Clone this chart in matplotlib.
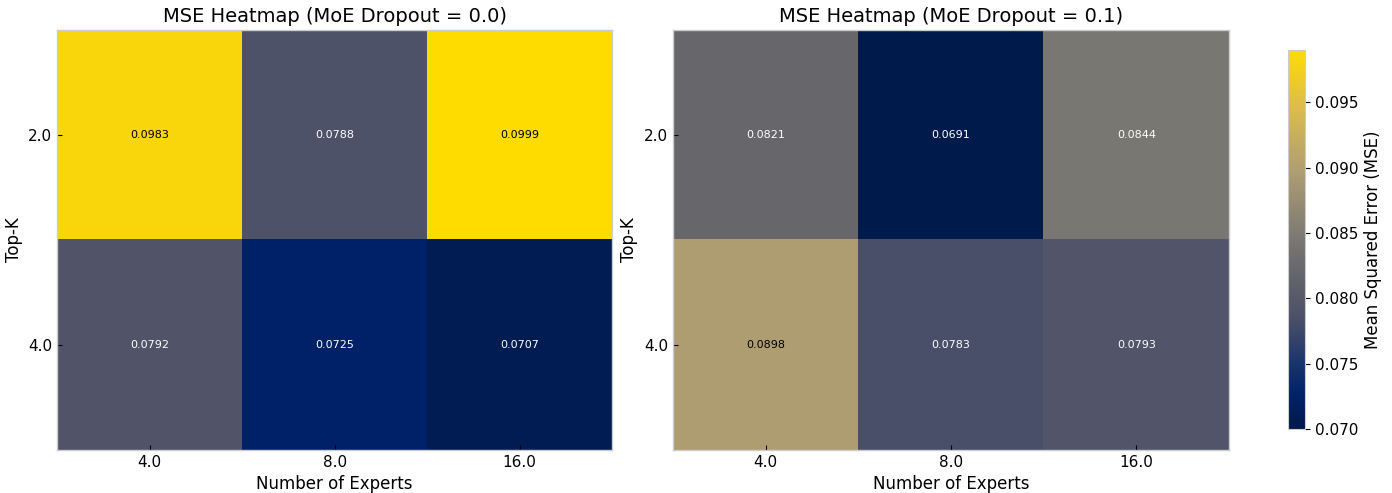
import numpy as np
import matplotlib
matplotlib.use("Agg")
from matplotlib import pyplot as plt
from matplotlib.colors import Normalize, LinearSegmentedColormap
from matplotlib.cm import ScalarMappable

# Values
num_experts = ["4.0", "8.0", "16.0"]
top_k = ["2.0", "4.0"]
dropouts = ["0.0", "0.1"]
mse_drop_00 = [[0.0983, 0.0788, 0.0999],
               [0.0792, 0.0725, 0.0707]]
mse_drop_01 = [[0.0821, 0.0691, 0.0844],
               [0.0898, 0.0783, 0.0793]]

# Navy -> gray -> gold map (a more saturated cividis look, as in the reference)
anchors = [(0.00, (0, 26, 76)), (0.09, (0, 34, 105)), (0.17, (25, 52, 108)),
           (0.29, (75, 80, 105)), (0.42, (104, 103, 108)), (0.50, (122, 120, 115)),
           (0.68, (175, 157, 115)), (0.86, (222, 190, 75)), (1.00, (255, 220, 0))]
cmap = LinearSegmentedColormap.from_list(
    "navy_gold", [(p, tuple(c / 255 for c in rgb)) for p, rgb in anchors])

fig = plt.figure(figsize=(13.92, 4.93), dpi=100)
axes = [fig.add_axes([0.041, 0.0872, 0.3987, 0.852]),
        fig.add_axes([0.4835, 0.0872, 0.3994, 0.852])]
cax = fig.add_axes([0.9253, 0.1298, 0.0122, 0.7688])

norm = Normalize(vmin=0.070, vmax=0.099)

im = None
for ax, drop, data in zip(axes, dropouts, [mse_drop_00, mse_drop_01]):
    data = np.array(data)
    im = ax.imshow(data, cmap=cmap, norm=norm, aspect="auto", interpolation="nearest")
    for i in range(data.shape[0]):
        for j in range(data.shape[1]):
            val = data[i, j]
            color = "black" if norm(val) > 0.6 else "white"
            ax.text(j, i, f"{val:.4f}", ha="center", va="center",
                    fontsize=8, color=color)
    ax.set_xticks(range(len(num_experts)))
    ax.set_xticklabels(num_experts)
    ax.set_yticks(range(len(top_k)))
    ax.set_yticklabels(top_k)
    ax.tick_params(direction="in", length=3.5, width=0.8, labelsize=11)
    ax.set_xlabel("Number of Experts", fontsize=12)
    ax.set_ylabel("Top-K", fontsize=12)
    ax.set_title(f"MSE Heatmap (MoE Dropout = {drop})", fontsize=14)
    for s in ax.spines.values():
        s.set_edgecolor("#cccccc")
        s.set_linewidth(1.0)

cb = fig.colorbar(im, cax=cax)
cb.set_ticks([0.070, 0.075, 0.080, 0.085, 0.090, 0.095])
cb.ax.tick_params(labelsize=11, length=3.5, width=0.8)
cb.set_label("Mean Squared Error (MSE)", fontsize=12)
cb.outline.set_edgecolor("#cccccc")

fig.savefig("out.png", dpi=100)
